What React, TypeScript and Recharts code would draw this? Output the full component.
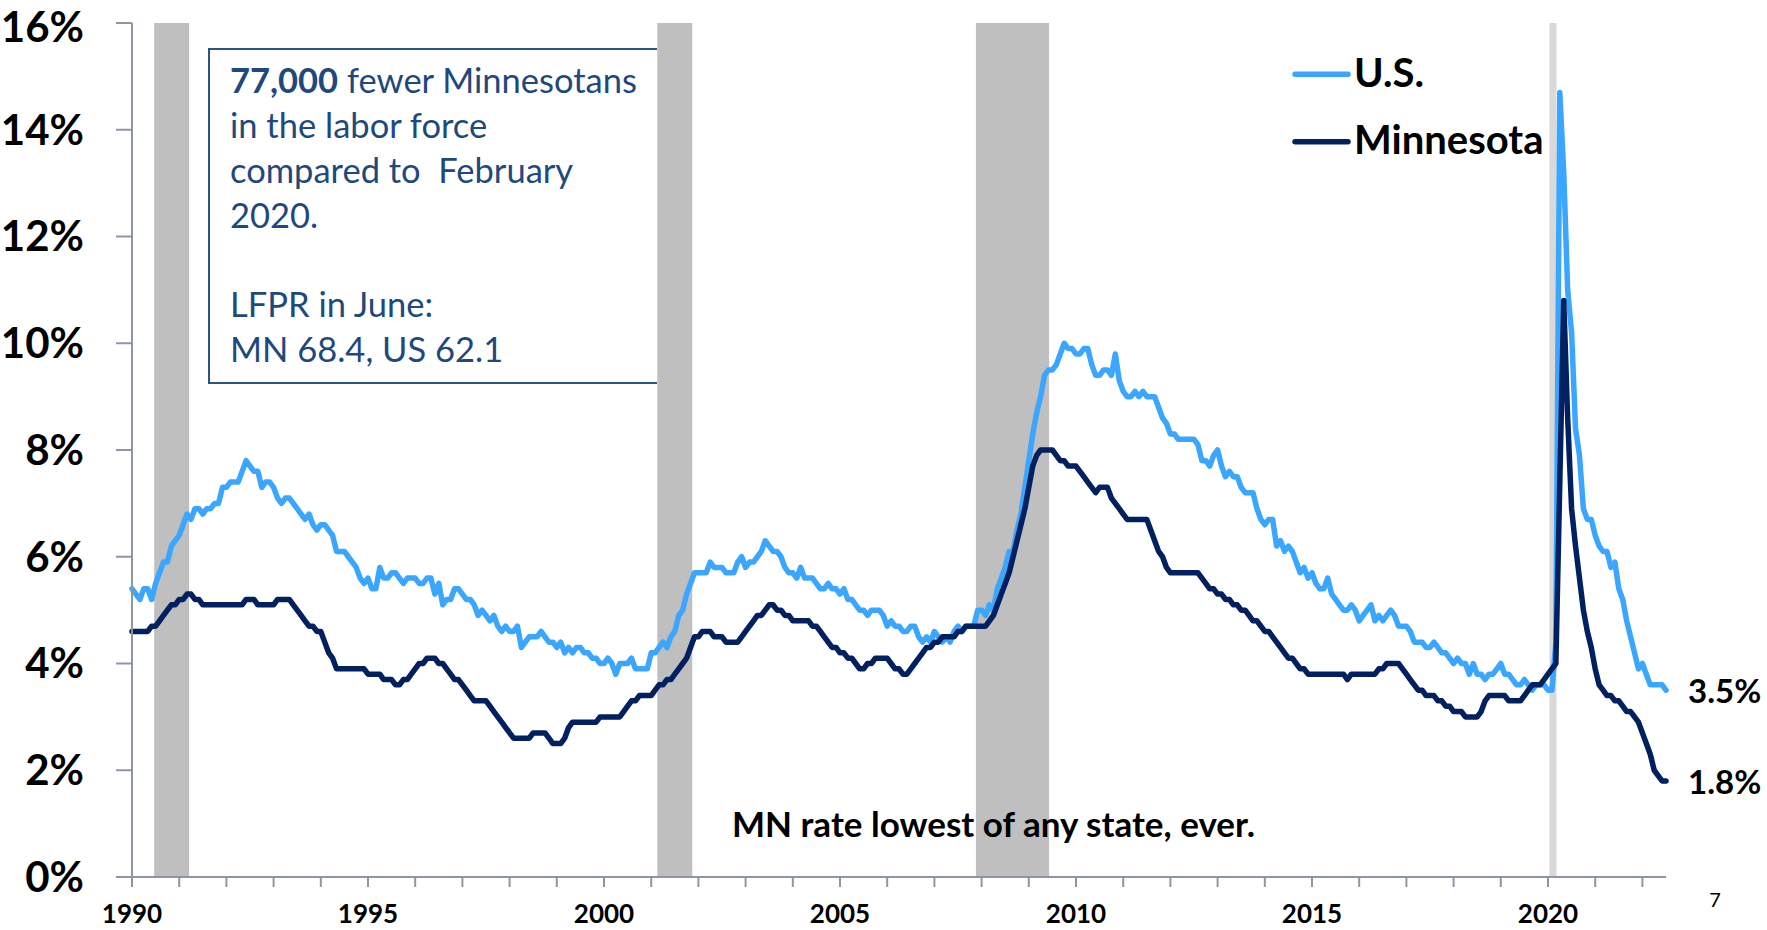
import { LineChart, Line, XAxis, YAxis, ReferenceArea } from "recharts";

const FONT = "Lato, 'Open Sans', 'DejaVu Sans', sans-serif";
const AXIS = "#8E96A6";
const NOTE = "#1F497D";

const startYear = 1990;

// U.S. unemployment rate, monthly, Jan 1990 - Jul 2022
const usRate = [
  5.4, 5.3, 5.2, 5.4, 5.4, 5.2, 5.5, 5.7, 5.9, 5.9, 6.2, 6.3,
  6.4, 6.6, 6.8, 6.7, 6.9, 6.9, 6.8, 6.9, 6.9, 7.0, 7.0, 7.3,
  7.3, 7.4, 7.4, 7.4, 7.6, 7.8, 7.7, 7.6, 7.6, 7.3, 7.4, 7.4,
  7.3, 7.1, 7.0, 7.1, 7.1, 7.0, 6.9, 6.8, 6.7, 6.8, 6.6, 6.5,
  6.6, 6.6, 6.5, 6.4, 6.1, 6.1, 6.1, 6.0, 5.9, 5.8, 5.6, 5.5,
  5.6, 5.4, 5.4, 5.8, 5.6, 5.6, 5.7, 5.7, 5.6, 5.5, 5.6, 5.6,
  5.6, 5.5, 5.5, 5.6, 5.6, 5.3, 5.5, 5.1, 5.2, 5.2, 5.4, 5.4,
  5.3, 5.2, 5.2, 5.1, 4.9, 5.0, 4.9, 4.8, 4.9, 4.7, 4.6, 4.7,
  4.6, 4.6, 4.7, 4.3, 4.4, 4.5, 4.5, 4.5, 4.6, 4.5, 4.4, 4.4,
  4.3, 4.4, 4.2, 4.3, 4.2, 4.3, 4.3, 4.2, 4.2, 4.1, 4.1, 4.0,
  4.0, 4.1, 4.0, 3.8, 4.0, 4.0, 4.0, 4.1, 3.9, 3.9, 3.9, 3.9,
  4.2, 4.2, 4.3, 4.4, 4.3, 4.5, 4.6, 4.9, 5.0, 5.3, 5.5, 5.7,
  5.7, 5.7, 5.7, 5.9, 5.8, 5.8, 5.8, 5.7, 5.7, 5.7, 5.9, 6.0,
  5.8, 5.9, 5.9, 6.0, 6.1, 6.3, 6.2, 6.1, 6.1, 6.0, 5.8, 5.7,
  5.7, 5.6, 5.8, 5.6, 5.6, 5.6, 5.5, 5.4, 5.4, 5.5, 5.4, 5.4,
  5.3, 5.4, 5.2, 5.2, 5.1, 5.0, 5.0, 4.9, 5.0, 5.0, 5.0, 4.9,
  4.7, 4.8, 4.7, 4.7, 4.6, 4.6, 4.7, 4.7, 4.5, 4.4, 4.5, 4.4,
  4.6, 4.5, 4.4, 4.5, 4.4, 4.6, 4.7, 4.6, 4.7, 4.7, 4.7, 5.0,
  5.0, 4.9, 5.1, 5.0, 5.4, 5.6, 5.8, 6.1, 6.1, 6.5, 6.8, 7.3,
  7.8, 8.3, 8.7, 9.0, 9.4, 9.5, 9.5, 9.6, 9.8, 10.0, 9.9, 9.9,
  9.8, 9.8, 9.9, 9.9, 9.6, 9.4, 9.4, 9.5, 9.5, 9.4, 9.8, 9.3,
  9.1, 9.0, 9.0, 9.1, 9.0, 9.1, 9.0, 9.0, 9.0, 8.8, 8.6, 8.5,
  8.3, 8.3, 8.2, 8.2, 8.2, 8.2, 8.2, 8.1, 7.8, 7.8, 7.7, 7.9,
  8.0, 7.7, 7.5, 7.6, 7.5, 7.5, 7.3, 7.2, 7.2, 7.2, 6.9, 6.7,
  6.6, 6.7, 6.7, 6.2, 6.3, 6.1, 6.2, 6.1, 5.9, 5.7, 5.8, 5.6,
  5.7, 5.5, 5.4, 5.4, 5.6, 5.3, 5.2, 5.1, 5.0, 5.0, 5.1, 5.0,
  4.8, 4.9, 5.0, 5.1, 4.8, 4.9, 4.8, 4.9, 5.0, 4.9, 4.7, 4.7,
  4.7, 4.6, 4.4, 4.4, 4.4, 4.3, 4.3, 4.4, 4.3, 4.2, 4.2, 4.1,
  4.0, 4.1, 4.0, 4.0, 3.8, 4.0, 3.8, 3.8, 3.7, 3.8, 3.8, 3.9,
  4.0, 3.8, 3.8, 3.7, 3.6, 3.6, 3.7, 3.6, 3.5, 3.6, 3.6, 3.6,
  3.5, 3.5, 4.4, 14.7, 13.2, 11.0, 10.2, 8.4, 7.9, 6.9, 6.7, 6.7,
  6.4, 6.2, 6.1, 6.1, 5.8, 5.9, 5.4, 5.2, 4.8, 4.5, 4.2, 3.9,
  4.0, 3.8, 3.6, 3.6, 3.6, 3.6, 3.5,
];

// Minnesota unemployment rate, monthly, Jan 1990 - Jul 2022
const mnRate = [
  4.6, 4.6, 4.6, 4.6, 4.6, 4.7, 4.7, 4.8, 4.9, 5.0, 5.1, 5.1,
  5.2, 5.2, 5.3, 5.3, 5.2, 5.2, 5.1, 5.1, 5.1, 5.1, 5.1, 5.1,
  5.1, 5.1, 5.1, 5.1, 5.1, 5.2, 5.2, 5.2, 5.1, 5.1, 5.1, 5.1,
  5.1, 5.2, 5.2, 5.2, 5.2, 5.1, 5.0, 4.9, 4.8, 4.7, 4.7, 4.6,
  4.6, 4.4, 4.2, 4.1, 3.9, 3.9, 3.9, 3.9, 3.9, 3.9, 3.9, 3.9,
  3.8, 3.8, 3.8, 3.8, 3.7, 3.7, 3.7, 3.6, 3.6, 3.7, 3.7, 3.8,
  3.9, 4.0, 4.0, 4.1, 4.1, 4.1, 4.0, 4.0, 3.9, 3.8, 3.7, 3.7,
  3.6, 3.5, 3.4, 3.3, 3.3, 3.3, 3.3, 3.2, 3.1, 3.0, 2.9, 2.8,
  2.7, 2.6, 2.6, 2.6, 2.6, 2.6, 2.7, 2.7, 2.7, 2.7, 2.6, 2.5,
  2.5, 2.5, 2.6, 2.8, 2.9, 2.9, 2.9, 2.9, 2.9, 2.9, 2.9, 3.0,
  3.0, 3.0, 3.0, 3.0, 3.0, 3.1, 3.2, 3.3, 3.3, 3.4, 3.4, 3.4,
  3.4, 3.5, 3.6, 3.6, 3.7, 3.7, 3.8, 3.9, 4.0, 4.1, 4.3, 4.5,
  4.5, 4.6, 4.6, 4.6, 4.5, 4.5, 4.5, 4.4, 4.4, 4.4, 4.4, 4.5,
  4.6, 4.7, 4.8, 4.9, 4.9, 5.0, 5.1, 5.1, 5.0, 5.0, 4.9, 4.9,
  4.8, 4.8, 4.8, 4.8, 4.8, 4.7, 4.7, 4.6, 4.5, 4.4, 4.3, 4.3,
  4.2, 4.2, 4.1, 4.1, 4.0, 3.9, 3.9, 4.0, 4.0, 4.1, 4.1, 4.1,
  4.1, 4.0, 3.9, 3.9, 3.8, 3.8, 3.9, 4.0, 4.1, 4.2, 4.3, 4.3,
  4.4, 4.4, 4.5, 4.5, 4.5, 4.5, 4.6, 4.6, 4.7, 4.7, 4.7, 4.7,
  4.7, 4.7, 4.8, 4.9, 5.1, 5.3, 5.5, 5.7, 6.0, 6.3, 6.6, 6.9,
  7.3, 7.7, 7.9, 8.0, 8.0, 8.0, 8.0, 7.9, 7.8, 7.8, 7.7, 7.7,
  7.7, 7.6, 7.5, 7.4, 7.3, 7.2, 7.3, 7.3, 7.3, 7.1, 7.0, 6.9,
  6.8, 6.7, 6.7, 6.7, 6.7, 6.7, 6.7, 6.5, 6.3, 6.1, 6.0, 5.8,
  5.7, 5.7, 5.7, 5.7, 5.7, 5.7, 5.7, 5.7, 5.6, 5.5, 5.4, 5.4,
  5.3, 5.3, 5.2, 5.2, 5.1, 5.1, 5.0, 5.0, 4.9, 4.8, 4.8, 4.7,
  4.6, 4.6, 4.5, 4.4, 4.3, 4.2, 4.1, 4.1, 4.0, 3.9, 3.9, 3.8,
  3.8, 3.8, 3.8, 3.8, 3.8, 3.8, 3.8, 3.8, 3.8, 3.7, 3.8, 3.8,
  3.8, 3.8, 3.8, 3.8, 3.8, 3.9, 3.9, 4.0, 4.0, 4.0, 4.0, 3.9,
  3.8, 3.7, 3.6, 3.5, 3.5, 3.4, 3.4, 3.4, 3.3, 3.3, 3.2, 3.2,
  3.1, 3.1, 3.1, 3.0, 3.0, 3.0, 3.0, 3.1, 3.3, 3.4, 3.4, 3.4,
  3.4, 3.4, 3.3, 3.3, 3.3, 3.3, 3.4, 3.5, 3.6, 3.6, 3.6, 3.7,
  3.8, 3.9, 4.0, 7.4, 10.8, 8.6, 6.9, 6.2, 5.6, 5.0, 4.6, 4.3,
  3.9, 3.6, 3.5, 3.4, 3.4, 3.3, 3.3, 3.2, 3.1, 3.1, 3.0, 2.9,
  2.7, 2.5, 2.3, 2.0, 1.9, 1.8, 1.8,
];

// recession shading, in fractional years
const recessionStart = [1990.47, 2001.13, 2007.88, 2020.03];
const recessionEnd = [1991.21, 2001.87, 2009.43, 2020.18];

const yearTicks = [
  1990, 1991, 1992, 1993, 1994, 1995, 1996, 1997, 1998, 1999, 2000,
  2001, 2002, 2003, 2004, 2005, 2006, 2007, 2008, 2009, 2010,
  2011, 2012, 2013, 2014, 2015, 2016, 2017, 2018, 2019, 2020,
  2021, 2022,
];
const rateTicks = [0, 2, 4, 6, 8, 10, 12, 14, 16];

const seriesNames = ["U.S.", "Minnesota"];
const seriesColors = ["#3AA6FF", "#002060"];

const data = usRate.map((us, i) => ({
  t: startYear + i / 12,
  us,
  mn: mnRate[i],
}));
const lastIndex = data.length - 1;

function endLabel(props: any) {
  const { x, y, index, value } = props;
  if (index !== lastIndex) return null;
  return (
    <text
      x={x + 22}
      y={y + 13}
      fontFamily={FONT}
      fontWeight={700}
      fontSize={33}
      fill="#000"
    >
      {Number(value).toFixed(1)}%
    </text>
  );
}

// y tick label; the top one is nudged down so it stays inside the page
function RateTick(props: any) {
  const { x, y, payload } = props;
  const top = payload.value === rateTicks[rateTicks.length - 1];
  return (
    <text
      x={x}
      y={y + (top ? 4 : 0)}
      dy="0.355em"
      textAnchor="end"
      fontFamily={FONT}
      fontWeight={700}
      fontSize={42}
      fill="#000"
    >
      {`${payload.value}%`}
    </text>
  );
}

export default function App() {
  return (
    <div
      style={{
        position: "absolute",
        left: 0,
        top: 0,
        width: 1767,
        height: 930,
        background: "#fff",
        overflow: "hidden",
      }}
    >
      <LineChart
        width={1767}
        height={930}
        data={data}
        margin={{ top: 23, right: 101, bottom: 0, left: 0 }}
      >
        {recessionStart.map((s, i) => (
          <ReferenceArea
            key={`rec-${i}`}
            x1={s}
            x2={recessionEnd[i]}
            y1={0}
            y2={16}
            fill={i === recessionStart.length - 1 ? "#D9D9D9" : "#BFBFBF"}
            fillOpacity={1}
            stroke="none"
          />
        ))}
        <XAxis
          type="number"
          dataKey="t"
          domain={[1990, 2022.5]}
          ticks={yearTicks}
          interval={0}
          tickFormatter={(v: number) => (v % 5 === 0 ? String(v) : "")}
          height={53}
          tickSize={10}
          tickMargin={18}
          axisLine={{ stroke: AXIS, strokeWidth: 2 }}
          tickLine={{ stroke: AXIS, strokeWidth: 2 }}
          tick={{ fill: "#000", fontSize: 26, fontWeight: 700, fontFamily: FONT }}
        />
        <YAxis
          type="number"
          domain={[0, 16]}
          ticks={rateTicks}
          interval={0}
          width={132}
          tickSize={16}
          tickMargin={32}
          axisLine={{ stroke: AXIS, strokeWidth: 2 }}
          tickLine={{ stroke: AXIS, strokeWidth: 2 }}
          tick={<RateTick />}
        />
        <Line
          type="linear"
          dataKey="us"
          name={seriesNames[0]}
          stroke={seriesColors[0]}
          strokeWidth={5.5}
          strokeLinejoin="round"
          strokeLinecap="round"
          dot={false}
          label={endLabel}
          isAnimationActive={false}
        />
        <Line
          type="linear"
          dataKey="mn"
          name={seriesNames[1]}
          stroke={seriesColors[1]}
          strokeWidth={5.5}
          strokeLinejoin="round"
          strokeLinecap="round"
          dot={false}
          label={endLabel}
          isAnimationActive={false}
        />
      </LineChart>

      <svg
        width={1767}
        height={930}
        style={{ position: "absolute", left: 0, top: 0, pointerEvents: "none" }}
      >
        {/* note box, right edge sits under the 2001 recession bar */}
        <path d="M657 49 H209 V383 H657" fill="none" stroke="#2B5585" strokeWidth={2} />
        <text fontFamily={FONT} fontSize={34.5} fill={NOTE} style={{ whiteSpace: "pre" }}>
          <tspan x={230} y={92.7}>
            <tspan fontWeight={700}>77,000</tspan> fewer Minnesotans
          </tspan>
          <tspan x={230} y={137.7}>in the labor force</tspan>
          <tspan x={230} y={182.7}>compared to  February</tspan>
          <tspan x={230} y={227.7}>2020.</tspan>
          <tspan x={230} y={316.7}>LFPR in June:</tspan>
          <tspan x={230} y={361.7}>MN 68.4, US 62.1</tspan>
        </text>

        {/* legend */}
        {seriesNames.map((name, i) => (
          <g key={name}>
            <line
              x1={1295}
              x2={1348}
              y1={74.3 + i * 67.4}
              y2={74.3 + i * 67.4}
              stroke={seriesColors[i]}
              strokeWidth={5.5}
              strokeLinecap="round"
            />
            <text
              x={1354}
              y={87 + i * 66.6}
              fontFamily={FONT}
              fontWeight={700}
              fontSize={40}
              fill="#000"
            >
              {name}
            </text>
          </g>
        ))}

        <text x={732} y={837} fontFamily={FONT} fontWeight={700} fontSize={35} fill="#000">
          MN rate lowest of any state, ever.
        </text>
        <text x={1715} y={907} textAnchor="middle" fontFamily={FONT} fontSize={20} fill="#000">
          7
        </text>
      </svg>
    </div>
  );
}
